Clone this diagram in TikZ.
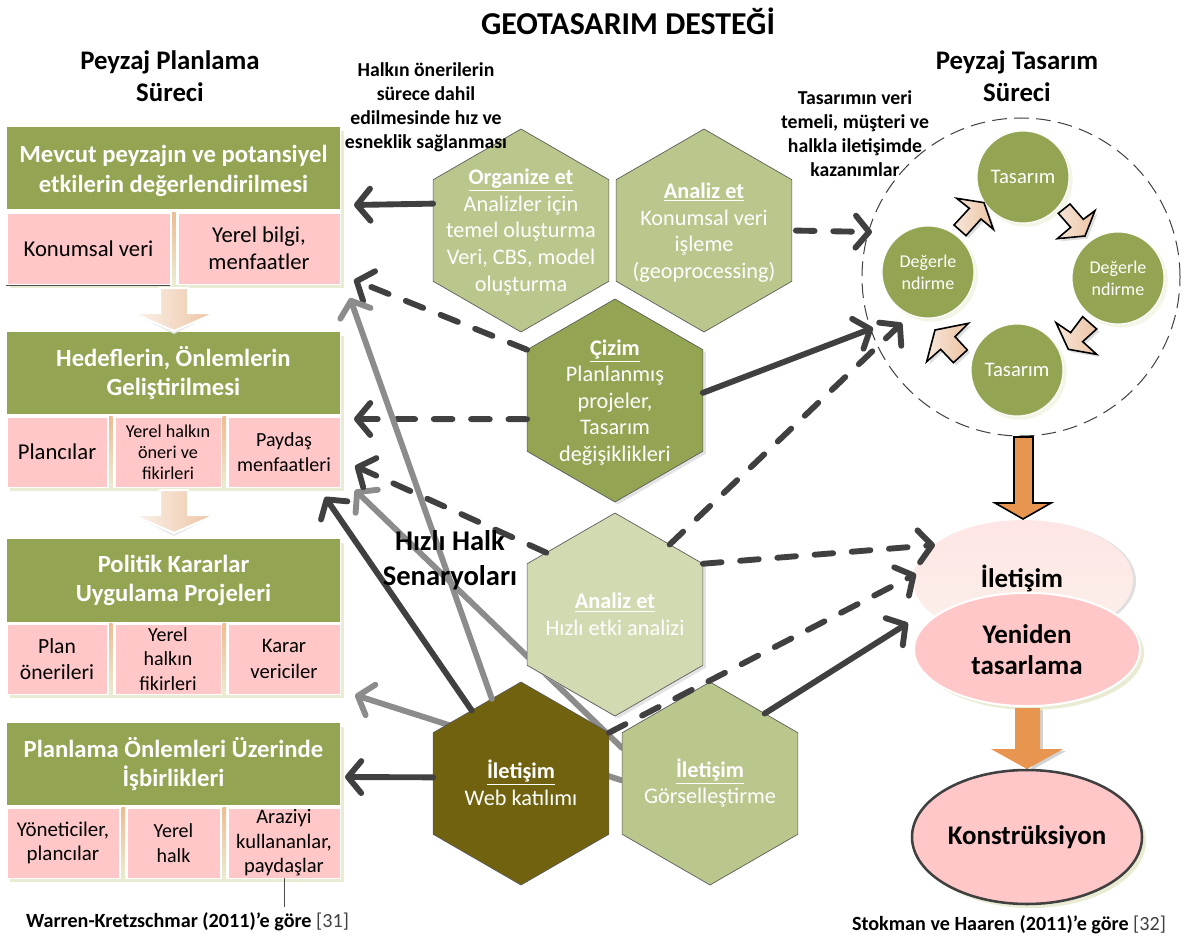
\documentclass[tikz,border=0pt]{standalone}
\usepackage{fontspec}
\setmainfont{Carlito}
\usetikzlibrary{arrows.meta,shapes.geometric}
\definecolor{grn}{HTML}{93A552}
\definecolor{pnk}{HTML}{FFC7C7}
\definecolor{hexa}{HTML}{B9C68C}
\definecolor{hexb}{HTML}{D2DAB2}
\definecolor{hexc}{HTML}{70620E}
\definecolor{shd}{HTML}{E9ECD2}
\definecolor{drk}{HTML}{404040}
\definecolor{gry}{HTML}{8C8C8C}
\definecolor{org}{HTML}{E8954F}
\definecolor{peachl}{HTML}{F7E6DA}
\definecolor{peachr}{HTML}{ECC3A2}
\newcommand{\fsz}[2]{\fontsize{#1}{#2}\selectfont}
\newcommand{\pbox}[7]{%
  \pgfmathsetmacro\pbW{(#4-#2)*0.75}\pgfmathsetmacro\pbH{(#5-#3)*0.75}%
  \pgfmathsetmacro\pbX{(#2+#4)/2}\pgfmathsetmacro\pbY{(#3+#5)/2}%
  \node[#6,minimum width=\pbW pt,minimum height=\pbH pt] (#1) at (\pbX,\pbY) {#7};}
\newcommand{\sliver}[3]{\shade[top color=peachr!90!orange,bottom color=shd] (#1,#2) rectangle ++(3.5,#3);}
\newcommand{\fatdown}[2]{% x centre, y top
  \begin{scope}[shift={(#1,#2)}]
  \fill[gray!20] (-41,25) -- (0,46) -- (41,25) -- (0,41) -- cycle;
  \filldraw[draw=white,line width=1.5pt,left color=peachl!50!white,right color=peachr] (-14,0) -- (14,0) -- (14,25) -- (41,25) -- (0,43) -- (-41,25) -- (-14,25) -- cycle;
  \end{scope}}
\tikzset{
  base/.style={inner sep=0pt,outer sep=0pt,align=center},
  ghead/.style={base,fill=grn,text=white,font=\bfseries\fsz{18.5}{22}},
  pinkbig/.style={base,fill=pnk,draw=white,line width=.5pt,text=black,font=\fsz{17}{20}},
  pinkmid/.style={base,fill=pnk,draw=white,line width=.5pt,text=black,font=\fsz{15}{18.4}},
  pinksm/.style={base,fill=pnk,draw=white,line width=.5pt,text=black,font=\fsz{13.6}{15.8}},
  hex/.style={regular polygon,regular polygon sides=6,shape border rotate=30,minimum size=152.25pt,inner sep=0pt,outer sep=0pt,draw=black!65,line width=.5pt},
  hexshadow/.style={hex,draw=none,fill=gray!22},
  hextext/.style={base,text=white,font=\fsz{16.7}{19.9}},
  circ/.style={circle,minimum size=69pt,inner sep=0pt,outer sep=0pt,fill=grn,draw=white,line width=.8pt,text=white,align=center,font=\fsz{13.5}{16.5}},
  circshadow/.style={circle,minimum size=70pt,inner sep=0pt,fill=shd!55!white},
  ell/.style={ellipse,inner sep=0pt,outer sep=0pt,align=center,font=\bfseries\fsz{20.2}{23.5}},
  heading/.style={base,font=\bfseries\fsz{20.1}{24}},
  note/.style={base,font=\bfseries\fsz{14.8}{18}},
  cite/.style={base,font=\bfseries\fsz{15.1}{17}},
  solidd/.style={draw=drk,line width=4.4pt,line cap=round,-{Straight Barb[round,length=10pt,width=24pt]}},
  dashd/.style={solidd,dash pattern=on 14pt off 14pt},
  solidg/.style={draw=gry,line width=4.4pt,line cap=round,-{Straight Barb[round,length=10pt,width=24pt]}},
  blockarr/.style={draw=black,line width=1.2pt,line join=miter,left color=peachl,right color=peachr},
  blockshadow/.style={fill=gray!25},
}
\begin{document}
\begin{tikzpicture}[x=0.75pt,y=-0.75pt]
\useasboundingbox (0,0) rectangle (1186,942);
\fill[white] (0,0) rectangle (1186,942);

% headings
\node[heading,font=\bfseries\fsz{23.9}{26}] (title) at (628,21) {GEOTASARIM DESTEĞİ};
\node[heading] (hleft) at (170,76) {Peyzaj Planlama\\Süreci};
\node[heading] (hright) at (1017,76) {Peyzaj Tasarım\\Süreci};

% left panel shadows
\fill[shd] (10,131) rectangle (344,288);
\fill[shd] (10,336) rectangle (344,491);
\fill[shd] (10,543) rectangle (344,698);
\fill[shd] (10,727) rectangle (344,882);
\fill[white] (6,126) rectangle (341,285);
\fill[white] (6,331) rectangle (341,488);
\fill[white] (6,538) rectangle (341,695);
\fill[white] (6,722) rectangle (341,879);

% box 1
\pbox{ga}{7}{127}{340}{209}{ghead}{\rule{0pt}{17.5pt}Mevcut peyzajın ve potansiyel\\etkilerin değerlendirilmesi}
\pbox{pa}{7}{213}{170}{284}{pinkbig}{Konumsal veri}
\pbox{pb}{178}{213}{340}{284}{pinkbig}{Yerel bilgi,\\menfaatler}
\sliver{172}{212}{73}
\draw[black!70,line width=.5pt] (6,285.5) -- (170,285.5);
% box 2
\pbox{gb}{7}{332}{340}{414}{ghead}{Hedeflerin, Önlemlerin\\Geliştirilmesi}
\pbox{pc}{7}{417}{107}{487}{pinkbig}{Plancılar}
\pbox{pd}{115}{417}{221}{487}{pinksm}{Yerel halkın\\öneri ve\\fikirleri}
\pbox{pe}{228}{417}{340}{487}{pinkmid}{Paydaş\\menfaatleri}
\sliver{109}{416}{72}
\sliver{222.5}{416}{72}
% box 3
\pbox{gc}{7}{539}{340}{622}{ghead}{Politik Kararlar\\Uygulama Projeleri}
\pbox{pf}{7}{624}{107}{694}{pinkmid,font=\fsz{16.2}{20}}{Plan\\önerileri}
\pbox{pg}{115}{624}{221}{694}{pinkmid}{Yerel\\halkın\\fikirleri}
\pbox{ph}{228}{624}{340}{694}{pinkmid,font=\fsz{15.5}{20}}{Karar\\vericiler}
\sliver{109}{623}{72}
\sliver{222.5}{623}{72}
% box 4
\pbox{gd}{7}{723}{340}{805}{ghead}{Planlama Önlemleri Üzerinde\\İşbirlikleri}
\pbox{pi}{7}{808}{119}{878}{pinkmid,font=\fsz{15.7}{18.4}}{Yöneticiler,\\plancılar}
\pbox{pj}{127}{808}{220}{878}{pinkmid}{Yerel\\halk}
\pbox{pk}{228}{808}{340}{878}{pinkmid,font=\fsz{15.4}{18.4}}{Araziyi\\kullananlar,\\paydaşlar}
\sliver{121.5}{807}{72}
\sliver{222.5}{807}{72}
\coordinate (citeL) at (284,907);
\draw[black!70,line width=.5pt] (284,878) -- (citeL);

% pale down arrows
\fatdown{174}{288}
\fatdown{174}{490}

% arrow tip coordinates
\coordinate (tOrg) at (354,205);
\coordinate (tCizA) at (354,280);
\coordinate (tCizB) at (354,419);
\coordinate (tAnB) at (355,466);
\coordinate (tGr1) at (350,298);
\coordinate (tGr2) at (355,490);
\coordinate (tGr3) at (355,695);
\coordinate (tWebD) at (325,497);
\coordinate (tWebL) at (345,777);
\coordinate (tWebR) at (916,574);
\coordinate (tGor) at (908,623);
\coordinate (tAnUR) at (902,323);
\coordinate (tAnR) at (935,545);
\coordinate (tCizR) at (873,328);
\coordinate (tAnA) at (872,232);

% hexagon anchors for lines drawn behind
\node[hex,draw=none] (gorA) at (710,783.5) {};
\draw[solidg] (gorA.158) -- (tGr2);
\draw[solidg] (gorA.178) -- (tGr3);

% hexagons
\node[hex,fill=hexa] (orgz) at (521,230.5) {};
\node[hex,fill=hexa] (anlz) at (704,230.5) {};
\node[hexshadow] (cizs) at (618,403) {};
\node[hex,fill=grn] (cizm) at (615,400.5) {};
\node[hexshadow] (an2s) at (618,617) {};
\node[hex,fill=hexb] (anl2) at (615,614.5) {};
\node[hex,fill=hexc] (webk) at (521,783.5) {};
\node[hex,fill=hexa] (gors) at (710,783.5) {};

\node[hextext] (torgz) at (521,232) {\underline{\textbf{Organize et}}\\Analizler için\\temel oluşturma\\Veri, CBS, model\\oluşturma};
\node[hextext] (tanlz) at (704,232.5) {\underline{\textbf{Analiz et}}\\Konumsal veri\\işleme\\(geoprocessing)};
\node[hextext] (tcizm) at (615,402.5) {\underline{\textbf{Çizim}}\\Planlanmış\\projeler,\\Tasarım\\değişiklikleri};
\node[hextext] (tanl2) at (615,614.5) {\underline{\textbf{Analiz et}}\\Hızlı etki analizi};
\node[hextext] (twebk) at (521,783) {\underline{\textbf{İletişim}}\\Web katılımı};
\node[hextext] (tgors) at (710,783) {\underline{\textbf{İletişim}}\\Görselleştirme};

% process circle
\node[circle,minimum size=238.5pt,inner sep=0pt,draw=drk,line width=.75pt,dash pattern=on 11pt off 5.5pt] (proc) at (1021,277) {};
\node[circshadow] (s1) at (1026,180) {};
\node[circshadow] (s2) at (1121,281) {};
\node[circshadow] (s3) at (1020,373) {};
\node[circshadow] (s4) at (931,275) {};
\node[circ,font=\fsz{15.5}{17}] (c1) at (1023,177) {Tasarım};
\node[circ] (c2) at (1118,278) {Değerle\\ndirme};
\node[circ,font=\fsz{15.5}{17}] (c3) at (1017,370) {Tasarım};
\node[circ] (c4) at (928,272) {Değerle\\ndirme};

% block arrows round the cycle
\begin{scope}[shift={(780,120)},x=0.25pt,y=-0.25pt]
\fill[blockshadow,shift={(8,8)}] (530,235) -- (612,248) -- (640,328) -- (603,297) -- (558,347) -- (522,315) -- (568,265) -- cycle;
\path[blockarr] (530,235) -- (612,248) -- (640,328) -- (603,297) -- (558,347) -- (522,315) -- (568,265) -- cycle;
\fill[blockshadow,shift={(8,8)}] (870,252) -- (910,298) -- (945,272) -- (915,348) -- (832,356) -- (872,322) -- (835,280) -- cycle;
\path[blockarr] (870,252) -- (910,298) -- (945,272) -- (915,348) -- (832,356) -- (872,322) -- (835,280) -- cycle;
\fill[blockshadow,shift={(8,8)}] (908,590) -- (950,627) -- (908,665) -- (950,703) -- (865,688) -- (828,608) -- (872,638) -- cycle;
\path[blockarr] (908,590) -- (950,627) -- (908,665) -- (950,703) -- (865,688) -- (828,608) -- (872,638) -- cycle;
\fill[blockshadow,shift={(8,8)}] (565,610) -- (525,650) -- (562,690) -- (520,728) -- (482,688) -- (440,725) -- (465,630) -- cycle;
\path[blockarr] (565,610) -- (525,650) -- (562,690) -- (520,728) -- (482,688) -- (440,725) -- (465,630) -- cycle;
\end{scope}

% orange arrows
\filldraw[draw=black,line width=1.2pt,fill=org] (1014,437) -- (1033,437) -- (1033,503) -- (1051,503) -- (1023,519) -- (995,503) -- (1014,503) -- cycle;

% ellipses
\node[ellipse,minimum width=165pt,minimum height=90pt,inner sep=0pt,fill=gray!25] (e1s) at (1026,581) {};
\node[ell,minimum width=165pt,minimum height=90pt,top color=pnk!45!white,bottom color=peachl!60!white] (e1) at (1023,580) {};
\node[base,font=\bfseries\fsz{20.2}{23.5}] (e1t) at (1022,578) {İletişim};
\fill[shd] (1031,653) ellipse (113 and 57);
\node[ell,minimum width=169.5pt,minimum height=85pt,fill=pnk,draw=white,line width=1.5pt] (e2) at (1027,649.5) {Yeniden\\tasarlama};
\fill[gray!35] (1017,710) rectangle (1043,751);
\fill[gray!35] (1040,751) -- (1066,751) -- (1030,771) -- cycle;
\fill[org] (1015,708) -- (1040,708) -- (1040,749) -- (1063,749) -- (1027,769) -- (991,749) -- (1015,749) -- cycle;
\fill[shd] (1031,841) ellipse (115 and 67);
\node[ell,minimum width=172.5pt,minimum height=100.5pt,fill=pnk,draw=drk,line width=1.9pt] (e3) at (1027,837) {Konstrüksiyon};

% connectors
\draw[solidd] (orgz.163.5) -- (tOrg);
\draw[dashd] (cizm.150) -- (tCizA);
\draw[dashd] (cizm.192) -- (tCizB);
\draw[solidd] (cizm.5) -- (tCizR);
\draw[dashd,shorten <=3pt] (anlz.0) -- (tAnA);
\draw[dashd] (anl2.138.8) -- (tAnB);
\draw[dashd] (anl2.52) -- (tAnUR);
\draw[dashd] (anl2.30) -- (tAnR);
\draw[solidg] (webk.109) -- (tGr1);
\draw[solidd] (webk.124.6) -- (tWebD);
\draw[solidd] (webk.176) -- (tWebL);
\draw[dashd] (webk.30) -- (tWebR);
\draw[solidd] (gors.52) -- (tGor);

% notes
\node[note] (n1) at (426,107) {Halkın önerilerin\\sürece dahil\\edilmesinde hız ve\\esneklik sağlanması};
\node[note] (n2) at (855,134) {Tasarımın veri\\temeli, müşteri ve\\halkla iletişimde\\kazanımlar};
\node[base,font=\bfseries\fsz{21.4}{26}] (n3) at (450,560) {Hızlı Halk\\Senaryoları};
\node[cite] (c31) at (187.5,922) {Warren-Kretzschmar (2011)’e göre \textmd{\textcolor{black!75}{[31]}}};
\node[cite] (c32) at (1009,925) {Stokman ve Haaren (2011)’e göre \textmd{\textcolor{black!75}{[32]}}};
\end{tikzpicture}
\end{document}
